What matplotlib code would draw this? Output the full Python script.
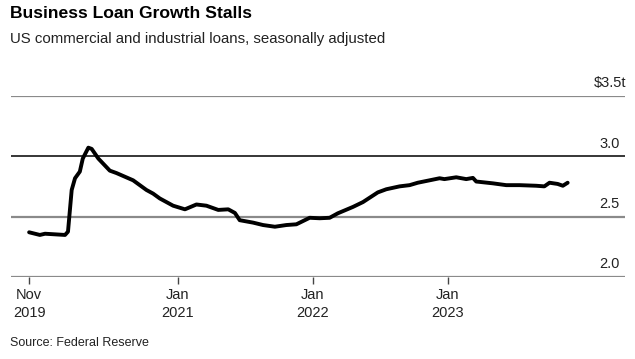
import pandas as pd
import matplotlib.pyplot as plt

plt.rcParams['font.family'] = ['Liberation Sans', 'DejaVu Sans']

# weekly C&I loans, $ trillions
dates = ['2019-11-27', '2019-12-26', '2020-01-09', '2020-03-03', '2020-03-11',
         '2020-03-21', '2020-03-30', '2020-04-12', '2020-04-20', '2020-05-05',
         '2020-05-14', '2020-06-01', '2020-07-02', '2020-07-20', '2020-09-03',
         '2020-10-09', '2020-10-27', '2020-11-14', '2020-12-20', '2021-01-21',
         '2021-02-21', '2021-03-20', '2021-04-21', '2021-05-18', '2021-06-05',
         '2021-06-18', '2021-07-24', '2021-08-20', '2021-09-21', '2021-10-22',
         '2021-11-18', '2021-12-24', '2022-01-20', '2022-02-16', '2022-03-10',
         '2022-04-20', '2022-05-17', '2022-06-26', '2022-07-19', '2022-08-24',
         '2022-09-20', '2022-10-12', '2022-11-13', '2022-12-10', '2022-12-23',
         '2023-01-24', '2023-02-20', '2023-03-10', '2023-03-19', '2023-05-03',
         '2023-06-08', '2023-07-14', '2023-08-28', '2023-09-19', '2023-10-03',
         '2023-10-25', '2023-11-08', '2023-11-21']
loans = [2.370, 2.348, 2.358, 2.348, 2.375,
         2.720, 2.817, 2.872, 2.980, 3.070,
         3.060, 2.980, 2.880, 2.860, 2.800,
         2.720, 2.690, 2.650, 2.590, 2.560,
         2.600, 2.590, 2.555, 2.560, 2.530,
         2.470, 2.450, 2.430, 2.416, 2.430,
         2.436, 2.490, 2.486, 2.490, 2.527,
         2.580, 2.620, 2.700, 2.726, 2.750,
         2.760, 2.780, 2.800, 2.817, 2.810,
         2.825, 2.810, 2.820, 2.790, 2.775,
         2.760, 2.760, 2.755, 2.750, 2.780,
         2.770, 2.755, 2.780]

y_ticks = [2.0, 2.5, 3.0, 3.5]
y_labels = ['2.0', '2.5', '3.0', '$3.5t']
x_ticks = ['2019-11-27', '2021-01-01', '2022-01-01', '2023-01-01']
x_labels = ['Nov\n2019', 'Jan\n2021', 'Jan\n2022', 'Jan\n2023']

df = pd.DataFrame({'date': pd.to_datetime(dates), 'loans': loans})

fig = plt.figure(figsize=(6.35, 3.59), dpi=100)
ax = fig.add_axes([0.0173, 0.2284, 0.9670, 0.5050])

# gridlines: 3.0 is black, the rest gray
for v in y_ticks:
    ax.axhline(v, color='black' if v == 3.0 else '#8a8a8a',
               lw=1.1 if v == 3.0 else 1.6, zorder=1)

ax.plot(df['date'], df['loans'], color='black', lw=2.8,
        solid_joinstyle='round', solid_capstyle='round', zorder=3)

ax.set_ylim(2.0, 3.5)
ax.set_xlim(pd.Timestamp('2019-10-09'), pd.Timestamp('2024-04-24'))
for s in ax.spines.values():
    s.set_visible(False)
ax.set_yticks([])

ax.set_xticks(pd.to_datetime(x_ticks))
ax.set_xticklabels(x_labels, fontsize=10.5, color='#222222', linespacing=1.35)
ax.tick_params(axis='x', length=5, width=1, color='#444444', pad=3)

for v, lab in zip(y_ticks, y_labels):
    ax.annotate(lab, xy=(1.0, v), xycoords=('axes fraction', 'data'),
                xytext=(-4 if lab != '$3.5t' else 1, 4), textcoords='offset points',
                ha='right', va='bottom', fontsize=10.5, color='#222222')

fig.text(10 / 635, 1 - 6 / 359, 'Business Loan Growth Stalls', fontsize=12.6,
         fontweight='bold', ha='left', va='top', color='black')
fig.text(10 / 635, 1 - 32 / 359, 'US commercial and industrial loans, seasonally adjusted',
         fontsize=10.8, ha='left', va='top', color='#222222')
fig.text(10 / 635, 1 - 337 / 359, 'Source: Federal Reserve', fontsize=9,
         ha='left', va='top', color='#222222')

plt.savefig('out.png', dpi=100)
